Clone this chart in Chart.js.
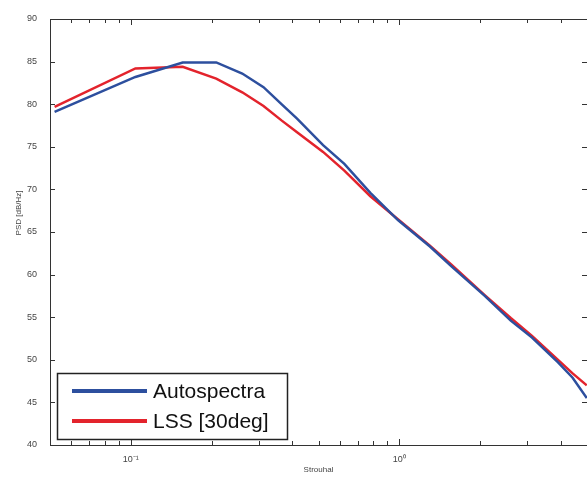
<!DOCTYPE html>
<html>
<head>
<meta charset="utf-8">
<script src="https://cdn.jsdelivr.net/npm/chart.js@4"></script>
<style>
  html, body { margin: 0; padding: 0; background: #fff; }
  #psdChart { display: block; }
</style>
</head>
<body>
<canvas id="psdChart" width="587" height="479"></canvas>
<script>
// values
const strouhal = [0.052, 0.104, 0.156, 0.208, 0.26, 0.312, 0.364, 0.416, 0.52, 0.624, 0.78, 0.988, 1.3, 1.56, 2.08, 2.6, 3.12, 3.9, 4.42, 4.99];
const autospectra = [79.1, 83.2, 84.9, 84.9, 83.6, 82.0, 80.0, 78.3, 75.2, 73.0, 69.6, 66.4, 63.3, 61.0, 57.5, 54.6, 52.6, 49.7, 47.9, 45.5];
const lss30 = [79.7, 84.2, 84.4, 83.0, 81.4, 79.8, 78.1, 76.7, 74.4, 72.2, 69.2, 66.5, 63.4, 61.2, 57.6, 54.9, 52.8, 50.0, 48.4, 47.0];
const seriesLabels = ['Autospectra', 'LSS [30deg]'];
const xTicks = [0.05, 0.06, 0.07, 0.08, 0.09, 0.1, 0.2, 0.3, 0.4, 0.5, 0.6, 0.7, 0.8, 0.9, 1, 2, 3, 4, 5];
const yTicks = [40, 45, 50, 55, 60, 65, 70, 75, 80, 85, 90];
const yTitle = 'PSD [dB/Hz]';

const toPoints = ys => strouhal.map((x, i) => ({ x: x, y: ys[i] }));

// matlab style box with inward ticks
const boxTicks = {
    id: 'boxTicks',
    afterDraw(chart) {
        const { ctx, chartArea: a, scales } = chart;
        ctx.save();
        ctx.strokeStyle = '#333';
        ctx.lineWidth = 1;
        ctx.strokeRect(a.left + 0.5, a.top + 0.5, a.right - a.left, a.bottom - a.top);
        ctx.beginPath();
        xTicks.forEach(v => {
            const px = Math.round(scales.x.getPixelForValue(v)) + 0.5;
            const len = (v === 0.1 || v === 1) ? 6 : 4;
            ctx.moveTo(px, a.bottom); ctx.lineTo(px, a.bottom - len);
            ctx.moveTo(px, a.top); ctx.lineTo(px, a.top + len);
        });
        yTicks.forEach(v => {
            const py = Math.round(scales.y.getPixelForValue(v)) + 0.5;
            ctx.moveTo(a.left, py); ctx.lineTo(a.left + 5, py);
            ctx.moveTo(a.right, py); ctx.lineTo(a.right - 5, py);
        });
        ctx.stroke();

        // y title sits a bit above the axis middle in the original
        ctx.translate(19, 213);
        ctx.rotate(-Math.PI / 2);
        ctx.fillStyle = '#444';
        ctx.font = '8px "Liberation Sans", Arial, sans-serif';
        ctx.textAlign = 'center';
        ctx.textBaseline = 'middle';
        ctx.fillText(yTitle, 0, 0);
        ctx.restore();
    }
};

// legend box in lower left corner
const boxLegend = {
    id: 'boxLegend',
    afterDraw(chart) {
        const ctx = chart.ctx;
        ctx.save();
        ctx.fillStyle = '#fff';
        ctx.fillRect(57, 373, 230, 66);
        ctx.strokeStyle = '#222';
        ctx.lineWidth = 1.5;
        ctx.strokeRect(57.5, 373.5, 230, 66);
        chart.data.datasets.forEach((ds, i) => {
            const y = 391 + i * 30;
            ctx.strokeStyle = ds.borderColor;
            ctx.lineWidth = 4;
            ctx.beginPath();
            ctx.moveTo(72, y);
            ctx.lineTo(147, y);
            ctx.stroke();
            ctx.fillStyle = '#111';
            ctx.font = '21px "Liberation Sans", Arial, sans-serif';
            ctx.textBaseline = 'middle';
            ctx.fillText(ds.label, 153, y + 1);
        });
        ctx.restore();
    }
};

const ctx = document.getElementById('psdChart').getContext('2d');
new Chart(ctx, {
    type: 'line',
    data: {
        datasets: [{
            label: seriesLabels[0],
            data: toPoints(autospectra),
            borderColor: '#2d4f9e',
            borderWidth: 2.5,
            pointRadius: 0,
            tension: 0
        }, {
            label: seriesLabels[1],
            data: toPoints(lss30),
            borderColor: '#e3232c',
            borderWidth: 2.5,
            pointRadius: 0,
            tension: 0
        }]
    },
    options: {
        responsive: false,
        animation: false,
        layout: { padding: { top: 19, right: 0, left: 0, bottom: 0 } },
        plugins: { legend: { display: false }, tooltip: { enabled: false } },
        scales: {
            x: {
                type: 'logarithmic',
                min: 0.05,
                max: 5,
                afterBuildTicks: s => { s.ticks = xTicks.map(v => ({ value: v })); },
                afterFit: s => { s.height = 34; s.paddingLeft = 0; s.paddingRight = 0; },
                grid: { display: false },
                border: { display: false },
                ticks: {
                    autoSkip: false,
                    maxRotation: 0,
                    padding: 1,
                    color: '#444',
                    font: { family: '"Liberation Sans", Arial, sans-serif', size: 9 },
                    callback: v => v === 0.1 ? '10\u207B\u00B9' : (v === 1 ? '10\u2070' : '')
                },
                title: {
                    display: true,
                    text: 'Strouhal',
                    color: '#444',
                    font: { family: '"Liberation Sans", Arial, sans-serif', size: 8 },
                    padding: { top: 0, bottom: 4 }
                }
            },
            y: {
                min: 40,
                max: 90,
                afterBuildTicks: s => { s.ticks = yTicks.map(v => ({ value: v })); },
                afterFit: s => { s.width = 50; s.paddingTop = 0; s.paddingBottom = 0; },
                grid: { display: false },
                border: { display: false },
                ticks: {
                    padding: 5,
                    color: '#444',
                    font: { family: '"Liberation Sans", Arial, sans-serif', size: 9 }
                }
            }
        }
    },
    plugins: [boxTicks, boxLegend]
});
</script>
</body>
</html>
